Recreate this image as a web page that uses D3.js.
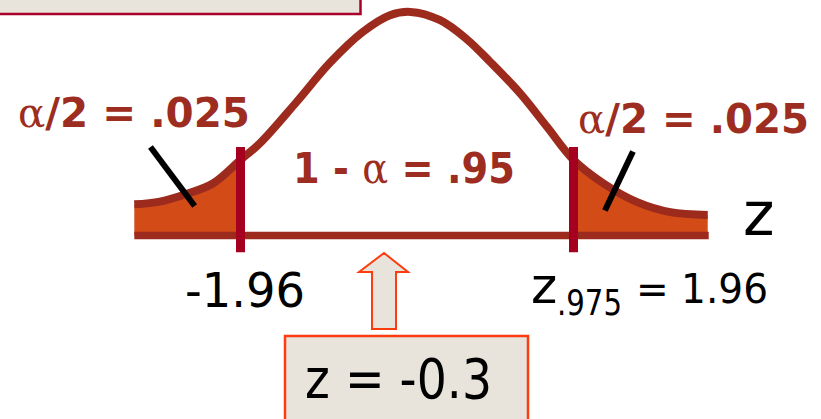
<!DOCTYPE html>
<html lang="en">
<head>
<style>
  body { margin: 0; background: #fff; }
  svg { display: block; }
  .lbl { font-family: "DejaVu Sans", Verdana, sans-serif; font-weight: bold; fill: #9c2d20; white-space: pre; }
  .blk { font-family: "DejaVu Sans", Tahoma, sans-serif; fill: #000; }
</style>
<script src="https://d3js.org/d3.v7.min.js" charset="utf-8"></script>
</head>
<body>
<script>
  // curve (z, height)
  let zPoints = [-3.21, -2.91, -2.59, -2.28, -1.96, -1.73, -1.30, -0.91, -0.52, -0.20, 0.04, 0.39, 0.71, 0.98, 1.33, 1.65, 1.96, 2.31, 2.71, 3.10, 3.54];
  let density = [0.056, 0.061, 0.075, 0.094, 0.136, 0.166, 0.240, 0.310, 0.366, 0.396, 0.402, 0.387, 0.352, 0.312, 0.256, 0.195, 0.136, 0.094, 0.060, 0.042, 0.037];
  let cutoffs = [-1.96, 1.96];
  let pointers = [[-3.02, 0.159, -2.50, 0.053], [2.66, 0.151, 2.33, 0.045]];

  let width = 821;
  let height = 419;

  let svg = d3.select("body")
    .append("svg")
    .attr("width", width)
    .attr("height", height);

  let x = d3.scaleLinear()
    .domain([-1.96, 1.96])
    .range([240.5, 573.5]);

  let y = d3.scaleLinear()
    .domain([0, 0.4])
    .range([235.5, 13]);

  let data = zPoints.map(function(z, i) { return { z: z, d: density[i] }; });
  let curve = d3.curveCatmullRom.alpha(0.5);

  // top-left text box (cut off by the frame)
  svg.append("rect")
    .attr("x", -10).attr("y", -10)
    .attr("width", 370.5).attr("height", 24)
    .style("fill", "#e8e4dc")
    .style("stroke", "#a8002a")
    .style("stroke-width", 2.5);

  // shaded tails
  let area = d3.area()
    .x(function(d) { return x(d.z); })
    .y0(y(0))
    .y1(function(d) { return y(d.d); })
    .curve(curve);

  svg.append("path")
    .attr("d", area(data.filter(function(d) { return d.z <= cutoffs[0]; })))
    .style("fill", "#d34b17");

  svg.append("path")
    .attr("d", area(data.filter(function(d) { return d.z >= cutoffs[1]; })))
    .style("fill", "#d34b17");

  // density curve
  svg.append("path")
    .attr("d", d3.line()
      .x(function(d) { return x(d.z); })
      .y(function(d) { return y(d.d); })
      .curve(curve)(data))
    .style("fill", "none")
    .style("stroke", "#9c2b1e")
    .style("stroke-width", 8);

  // z axis
  svg.append("line")
    .attr("x1", x(d3.min(zPoints))).attr("x2", x(d3.max(zPoints)) + 1)
    .attr("y1", y(0)).attr("y2", y(0))
    .style("stroke", "#9c2b1e")
    .style("stroke-width", 7.5);

  // critical values
  svg.selectAll(".cut")
    .data(cutoffs)
    .enter().append("line")
    .attr("class", "cut")
    .attr("x1", function(d) { return x(d); })
    .attr("x2", function(d) { return x(d); })
    .attr("y1", y(0.159))
    .attr("y2", y(-0.03))
    .style("stroke", "#a5001f")
    .style("stroke-width", 9);

  // pointer ticks to the tails
  svg.selectAll(".ptr")
    .data(pointers)
    .enter().append("line")
    .attr("class", "ptr")
    .attr("x1", function(d) { return x(d[0]); })
    .attr("y1", function(d) { return y(d[1]); })
    .attr("x2", function(d) { return x(d[2]); })
    .attr("y2", function(d) { return y(d[3]); })
    .style("stroke", "#000")
    .style("stroke-width", 6);

  // red labels: pieces laid side by side, then squeezed to the picture's width
  function alphaLabel(tx, ty, size, len, pieces) {
    let g = svg.append("g");
    let cx = 0;
    pieces.forEach(function(p) {
      let t = g.append("text")
        .attr("class", "lbl")
        .attr("x", cx).attr("y", 0)
        .attr("font-size", size)
        .text(p);
      if (p === "\u03b1") {
        t.style("font-family", "'DejaVu Serif', 'Liberation Serif', serif")
          .style("font-weight", "normal");
      }
      cx += t.node().getComputedTextLength();
    });
    g.attr("transform", "translate(" + tx + "," + ty + ") scale(" + (len / cx) + ",1)");
  }
  alphaLabel(18, 126.5, 41, 232, ["\u03b1", "/2 = .025"]);
  alphaLabel(578, 133, 41, 231, ["\u03b1", "/2 = .025"]);
  alphaLabel(293, 182.5, 43, 222, ["1 - ", "\u03b1", " = .95"]);

  // black labels
  svg.append("text").attr("class", "blk")
    .attr("x", 743).attr("y", 235).attr("font-size", 60).text("z");

  svg.append("text").attr("class", "blk")
    .attr("x", 185).attr("y", 306.5).attr("font-size", 48)
    .attr("textLength", 120).attr("lengthAdjust", "spacingAndGlyphs")
    .text("-1.96");

  svg.append("text").attr("class", "blk")
    .attr("x", 531).attr("y", 302.5).attr("font-size", 50).text("z");
  svg.append("text").attr("class", "blk")
    .attr("x", 557).attr("y", 315).attr("font-size", 35)
    .attr("textLength", 65).attr("lengthAdjust", "spacingAndGlyphs")
    .text(".975");
  svg.append("text").attr("class", "blk")
    .attr("x", 636).attr("y", 302.5).attr("font-size", 40)
    .attr("textLength", 132).attr("lengthAdjust", "spacingAndGlyphs")
    .text("= 1.96");

  // arrow and value box
  svg.append("path")
    .attr("d", "M384,253 L408,272 L396,272 L396,329 L372,329 L372,272 L359,272 Z")
    .style("fill", "#e8e4dc")
    .style("stroke", "#ff3c10")
    .style("stroke-width", 2);

  svg.append("rect")
    .attr("x", 285).attr("y", 336)
    .attr("width", 243).attr("height", 100)
    .style("fill", "#e8e4dc")
    .style("stroke", "#ff3c10")
    .style("stroke-width", 2.5);

  svg.append("text").attr("class", "blk")
    .attr("x", 305).attr("y", 398).attr("font-size", 55)
    .attr("textLength", 187).attr("lengthAdjust", "spacingAndGlyphs")
    .text("z = -0.3");
</script>
</body>
</html>
